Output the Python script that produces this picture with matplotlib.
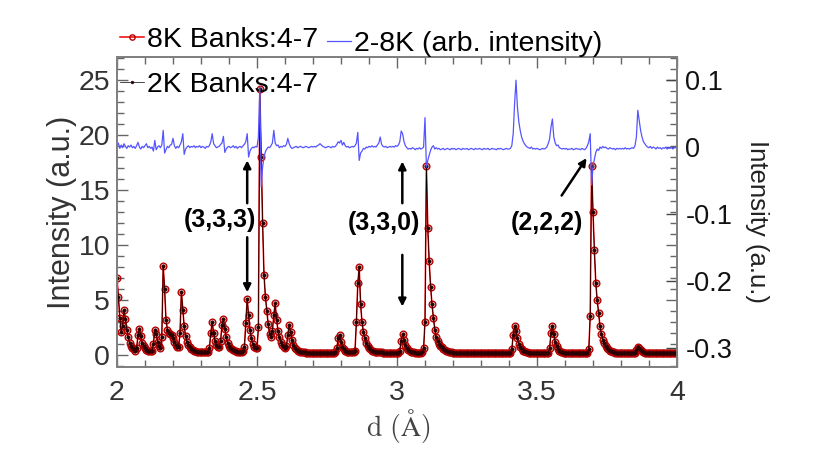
import numpy as np
import matplotlib
matplotlib.use("Agg")
import matplotlib.pyplot as plt
from matplotlib.ticker import MultipleLocator

plt.rcParams['font.family'] = ['Liberation Sans', 'DejaVu Sans']
plt.rcParams['mathtext.fontset'] = 'cm'

# d-spacing sample grid (Angstrom), 2.000 ... 4.000 step 0.005
d_start, d_step = 2.0, 0.005

# 8K Banks:4-7 intensity (a.u.), rows of 0.1 A
i8k = [
    7.0, 5.3, 3.4, 2.1, 2.6, 4.1, 3.3, 2.3, 1.6, 1.1, 0.8, 0.6, 0.5, 0.4, 0.6, 1.8, 2.4, 1.7, 1.1, 0.8,          # 2.0
    0.6, 0.45, 0.4, 0.35, 0.35, 0.4, 1.0, 2.3, 1.9, 1.2, 0.8, 0.6, 1.6, 8.1, 6.0, 3.2, 2.3, 2.0, 1.9, 1.8,     # 2.1
    1.5, 1.2, 0.9, 0.7, 0.7, 2.0, 5.7, 4.1, 2.6, 1.7, 1.2, 0.9, 0.7, 0.55, 0.45, 0.4, 0.35, 0.3, 0.3, 0.25,    # 2.2
    0.25, 0.25, 0.25, 0.25, 0.25, 0.3, 0.6, 2.0, 3.0, 2.0, 1.3, 0.9, 0.7, 0.7, 1.3, 2.7, 3.3, 2.4, 1.6, 1.1,   # 2.3
    0.8, 0.6, 0.5, 0.45, 0.4, 0.35, 0.3, 0.3, 0.3, 0.3, 0.35, 0.7, 2.9, 5.1, 3.6, 2.3, 1.5, 1.0, 0.75, 0.6,    # 2.4
    0.6, 2.5, 24.2, 18.0, 12.0, 7.3, 5.3, 4.0, 2.8, 1.9, 1.6, 2.2, 3.6, 4.7, 3.2, 2.2, 1.6, 1.2, 0.9, 0.7,     # 2.5
    0.65, 0.8, 1.8, 2.7, 2.1, 1.4, 0.9, 0.65, 0.5, 0.4, 0.35, 0.3, 0.3, 0.25, 0.25, 0.2, 0.2, 0.2, 0.2, 0.2,   # 2.6
    0.2, 0.2, 0.2, 0.2, 0.2, 0.2, 0.2, 0.2, 0.2, 0.2, 0.2, 0.2, 0.2, 0.2, 0.2, 0.2, 0.25, 0.6, 1.5, 1.8,      # 2.7
    1.2, 0.75, 0.5, 0.4, 0.3, 0.3, 0.25, 0.25, 0.25, 0.25, 0.4, 3.0, 6.5, 8.0, 4.6, 3.0, 2.1, 1.5, 1.1, 0.85,  # 2.8
    0.65, 0.5, 0.4, 0.35, 0.3, 0.3, 0.25, 0.25, 0.25, 0.25, 0.2, 0.2, 0.2, 0.2, 0.2, 0.2, 0.2, 0.2, 0.2, 0.2,  # 2.9
    0.2, 0.2, 0.4, 1.3, 1.9, 1.4, 0.9, 0.6, 0.45, 0.35, 0.3, 0.25, 0.25, 0.2, 0.2, 0.2, 0.2, 0.2, 0.25, 0.6,   # 3.0
    3.0, 17.2, 11.5, 8.5, 6.2, 4.6, 3.4, 2.3, 1.6, 1.3, 1.0, 0.85, 0.7, 0.55, 0.45, 0.4, 0.35, 0.3, 0.25, 0.25,  # 3.1
    0.2, 0.2, 0.2, 0.2, 0.2, 0.15, 0.15, 0.15, 0.15, 0.15, 0.15, 0.15, 0.15, 0.15, 0.15, 0.15, 0.15, 0.15, 0.15, 0.15,  # 3.2
    0.15, 0.15, 0.15, 0.15, 0.15, 0.15, 0.15, 0.15, 0.15, 0.15, 0.15, 0.15, 0.15, 0.15, 0.15, 0.15, 0.15, 0.15, 0.15, 0.15,  # 3.3
    0.15, 0.2, 0.5, 1.8, 2.6, 2.2, 1.5, 1.0, 0.7, 0.55, 0.4, 0.35, 0.3, 0.25, 0.2, 0.2, 0.2, 0.15, 0.15, 0.15,  # 3.4
    0.15, 0.15, 0.15, 0.15, 0.15, 0.15, 0.15, 0.15, 0.2, 0.6, 2.0, 2.6, 1.9, 1.2, 0.8, 0.55, 0.4, 0.3, 0.25, 0.2,  # 3.5
    0.15, 0.15, 0.15, 0.15, 0.15, 0.15, 0.15, 0.15, 0.15, 0.15, 0.15, 0.15, 0.15, 0.15, 0.15, 0.15, 0.2, 0.5, 3.5, 17.2,  # 3.6
    13.0, 9.5, 6.5, 5.0, 3.8, 2.6, 1.9, 1.4, 1.05, 0.8, 0.6, 0.5, 0.4, 0.35, 0.3, 0.25, 0.2, 0.2, 0.15, 0.15,  # 3.7
    0.15, 0.15, 0.15, 0.15, 0.15, 0.15, 0.15, 0.15, 0.15, 0.15, 0.2, 0.45, 0.7, 0.6, 0.45, 0.35, 0.25, 0.2, 0.15, 0.15,  # 3.8
    0.15, 0.15, 0.15, 0.15, 0.15, 0.15, 0.15, 0.15, 0.15, 0.15, 0.15, 0.15, 0.15, 0.15, 0.15, 0.15, 0.15, 0.15, 0.15, 0.15,  # 3.9
    0.15,  # 4.0
]

# 2K Banks:4-7 intensity: indistinguishable from 8K at this scale in the picture
i2k = list(i8k)

# 2-8K difference (arb. intensity, right axis), in units of 1e-3
diff_milli = [
    2, 6, -2, 3, -1, 5, 1, -2, 2, 0, 3, -1, 1, -2, 2, 7, 0, -3, 1, -1,          # 2.0
    2, 5, -1, 1, -2, 0, -6, 10, -4, 0, 2, -1, 3, 25, -9, -4, 1, -1, 3, 4,       # 2.1
    13, 2, -2, 1, -1, 3, 8, 20, -11, -3, 0, 2, -1, 1, 0, 2, -1, 1, 0, 2,        # 2.2
    -1, 1, 0, -2, 1, 0, 2, 8, 20, 5, 2, -1, 0, 1, 4, 6, 16, -8, -3, 0,          # 2.3
    1, -1, 0, 2, -1, 1, -2, 0, 1, -1, 2, 4, 8, 20, -15, -6, -2, 0, -1, 1,       # 2.4
    0, 15, 90, -60, -30, -15, -7, -3, 0, -1, 2, 6, 25, 6, 2, 3, -1, 1, 0, 2,    # 2.5
    1, 4, 13, 5, 0, -2, -1, 0, 1, -1, 0, 1, 0, -1, 0, 1, 0, -1, 0, 1,           # 2.6
    0, 1, 0, 2, 3, 5, 3, 1, 0, -1, 0, 1, 0, -1, 1, 0, 1, 4, 8, 6,               # 2.7
    10, 3, 7, 2, 0, 1, -1, 0, 1, 0, 2, 6, 22, -20, -9, -6, -2, -3, 0, -1,       # 2.8
    1, 0, 2, 0, 1, 0, 3, 6, 15, 4, 1, 0, 1, -1, 0, 1, 0, 1, 0, 2,               # 2.9
    1, 3, 8, 24, 20, 8, 2, -1, -3, -2, -3, -1, -2, -4, -2, -3, -1, -3, -2, 0,   # 3.0
    44, -30, -20, -12, -5, 0, 2, -3, -1, -3, -2, -4, -3, -2, -4, -3, -2, -3, -4, -2,  # 3.1
    -3, -2, -4, -3, -2, -3, -4, -2, -3, -3, -2, -4, -3, -2, -3, -4, -2, -3, -3, -2,  # 3.2
    -3, -4, -2, -3, -3, -2, -4, -3, -2, -3, -3, -4, -2, -3, -2, -3, -4, -3, -2, -3,  # 3.3
    -3, -2, 2, 20, 65, 100, 60, 38, 25, 15, 9, 5, 2, 0, -1, -2, 0, -3, -2, -3,      # 3.4
    -2, -3, -4, -3, -2, -3, -2, 0, 5, 12, 30, 42, 15, 6, 2, 3, -1, -2, -3, -2,      # 3.5
    -3, -2, -4, -3, -3, -2, -4, -3, -2, -3, -3, -4, -2, -3, -4, -2, 2, 8, 20, -57,  # 3.6
    -30, -18, -8, -3, -5, 0, -2, 1, -1, 0, -2, -3, -1, -2, -3, -2, -4, -2, -3, -2,  # 3.7
    -3, -2, -3, -1, -3, -2, -3, -2, -1, -2, 2, 15, 55, 40, 25, 15, 8, 5, 2, 0,      # 3.8
    -1, 1, -2, 0, -1, -3, 0, -2, -1, -3, -1, -2, 0, -3, -1, -2, 0, -3, -1, 1,       # 3.9
    -2,  # 4.0
]

x_ticks = [2, 2.5, 3, 3.5, 4]
x_ticklabels = ['2', '2.5', '3', '3.5', '4']
left_ticks = [0, 5, 10, 15, 20, 25]
right_ticks = [0.1, 0, -0.1, -0.2, -0.3]
right_ticklabels = ['0.1', '0', '-0.1', '-0.2', '-0.3']

d8 = d_start + d_step * np.arange(len(i8k))
d2 = d_start + d_step * np.arange(len(i2k))
dd = d_start + d_step * np.arange(len(diff_milli))
diff = np.array(diff_milli) * 1e-3

fig = plt.figure(figsize=(8.3, 4.67), dpi=100)
ax = fig.add_axes([117/830, 1-367/467, 560/830, 310/467])
ax2 = ax.twinx()

l8, = ax.plot(d8, i8k, '-', color='#ee0000', lw=1.1, marker='o', ms=4.8,
              mfc='none', mec='#b80000', mew=1.0, zorder=2)
l2, = ax.plot(d2, i2k, '-', color='black', lw=0.5, marker='o', ms=2.6,
              mfc='#2a0000', mec='#2a0000', mew=0.3, zorder=3)
lb, = ax2.plot(dd, diff, '-', color='#5555ff', lw=0.9)

ax.set_xlim(2, 4)
ax.set_ylim(-1.1, 27.1)
ax2.set_ylim(-0.329, 0.1347)

ax.set_xticks(x_ticks)
ax.set_xticklabels(x_ticklabels)
ax.xaxis.set_minor_locator(MultipleLocator(0.1))
ax.set_yticks(left_ticks)
ax.yaxis.set_minor_locator(MultipleLocator(1))
ax2.set_yticks(right_ticks)
ax2.set_yticklabels(right_ticklabels)

tc = '#666666'
ax.tick_params(axis='x', which='both', direction='in', top=True, bottom=True, color=tc,
               labelsize=20.5, labelcolor='#333333', pad=9)
ax.tick_params(axis='y', which='both', direction='in', left=True, right=True, color=tc,
               labelsize=20.5, labelcolor='#333333', pad=5)
ax.tick_params(which='major', length=8, width=1)
ax.tick_params(which='minor', length=5, width=1)
ax2.tick_params(axis='y', which='major', direction='in', length=8, width=1, color='#444444',
                labelsize=19.5, labelcolor='#111111', pad=6)
for a in (ax, ax2):
    for s in a.spines.values():
        s.set_color('#808080')
        s.set_linewidth(1.3)

ax.set_ylabel('Intensity (a.u.)', fontsize=22, color='#333333')
ax.yaxis.set_label_coords(-0.072, 0.5)
ax2.set_ylabel('Intensity (a.u.)', fontsize=18.5, rotation=270, color='#222222',
               va='center', ha='center')
ax2.yaxis.set_label_coords(1.143, 0.468)
ax.set_xlabel(r'$\mathrm{d\ (\AA)}$', fontsize=20, color='#444444')
ax.xaxis.set_label_coords(0.502, -0.13)

ak = dict(arrowstyle='-|>', color='black', lw=1.8, mutation_scale=11, shrinkA=0, shrinkB=0)
ax.annotate('', xy=(2.465, 17.7), xytext=(2.465, 13.8), arrowprops=ak)
ax.annotate('', xy=(2.465, 5.7), xytext=(2.465, 10.7), arrowprops=ak)
ax.text(2.368, 12.3, '(3,3,3)', fontsize=18, fontweight='bold', ha='center', va='center')
ax.annotate('', xy=(3.019, 17.6), xytext=(3.019, 13.8), arrowprops=ak)
ax.annotate('', xy=(3.019, 4.4), xytext=(3.019, 9.1), arrowprops=ak)
ax.text(2.954, 12.0, '(3,3,0)', fontsize=18, fontweight='bold', ha='center', va='center')
ax.annotate('', xy=(3.677, 17.9), xytext=(3.588, 14.5), arrowprops=ak)
ax.text(3.537, 12.0, '(2,2,2)', fontsize=18, fontweight='bold', ha='center', va='center')

leg1 = ax.legend([l8, l2], ['8K Banks:4-7', '2K Banks:4-7'], loc='upper left',
                 bbox_to_anchor=(0.005, 1.097), frameon=False, fontsize=20.5,
                 handlelength=0.85, handletextpad=0.1, labelspacing=0.66,
                 borderpad=0, borderaxespad=0, markerscale=0.8)
leg2 = ax2.legend([lb], ['2-8K (arb. intensity)'], loc='upper left',
                  bbox_to_anchor=(0.375, 1.084), frameon=False, fontsize=20.5,
                  handlelength=0.85, handletextpad=0.1, borderpad=0, borderaxespad=0)

fig.savefig('out.png', dpi=100)
